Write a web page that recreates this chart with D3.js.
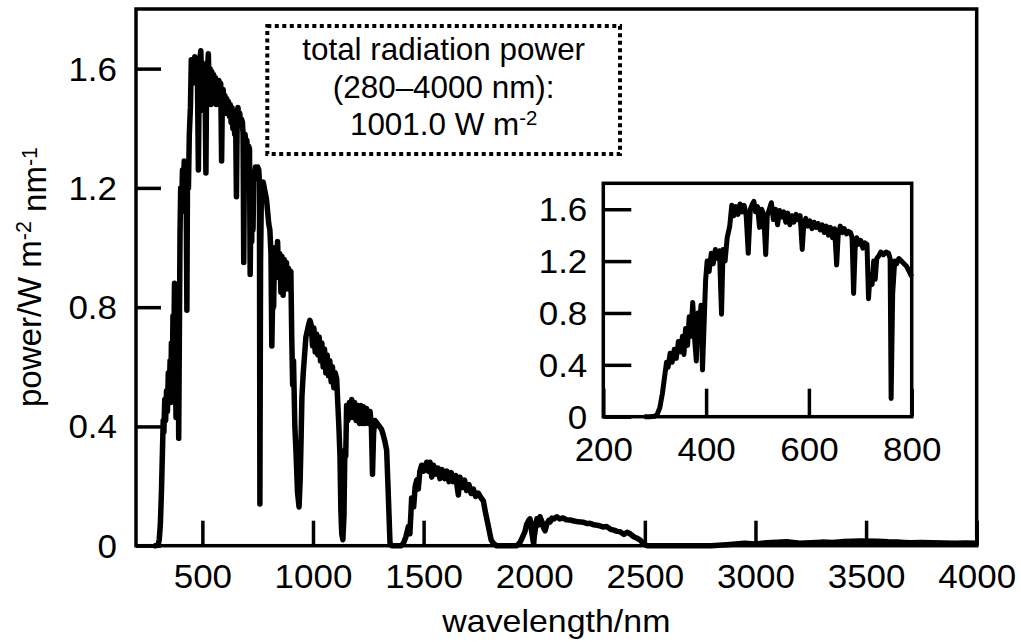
<!DOCTYPE html>
<html>
<head>
<meta charset="utf-8">
<script src="https://cdn.jsdelivr.net/npm/d3@7"></script>
<style>
html,body{margin:0;padding:0;background:#fff;}
svg{display:block;}
text{font-family:"Liberation Sans",Arial,Helvetica,sans-serif;fill:#000;}
</style>
</head>
<body>
<svg id="chart" width="1021" height="642"></svg>
<script>
// ---------- data ----------
const wlVis = [280,290,300,305,310,315,320,323,326,330,334,338,342,346,350,354,357,360,364,367,370,374,378,381,384,387,390,393,396,399,
402,406,410,414,418,422,426,430,433,437,441,446,450,454,458,462,466,470,474,478,482,486,490,493,496,500,504,508,512,516,519,523,527,531,535,539,543,547,551,555,559,563,567,571,575,579,583,587,590,594,598,602,606,610,614,618,622,626,630,634,638,642,646,650,654,657,661,665,669,673,677,681,684,687,690,693,697,701,705,709,713,716,719,723,726,729,732,736,740,745,750,755,758,760,763,767,771,775,780,785,790,795,800];
const pwVis = [0,0,0.003,0.02,0.07,0.18,0.33,0.42,0.38,0.49,0.42,0.52,0.45,0.58,0.50,0.62,0.48,0.68,0.55,0.77,0.62,0.88,0.58,0.43,0.80,0.65,0.86,0.36,0.70,1.05,
1.20,1.12,1.26,1.18,1.29,1.22,1.28,0.79,1.29,1.20,1.38,1.47,1.63,1.55,1.62,1.56,1.64,1.58,1.63,1.55,1.26,1.60,1.64,1.66,1.58,1.62,1.46,1.60,1.56,1.25,1.55,1.60,1.65,1.52,1.60,1.48,1.59,1.54,1.58,1.50,1.57,1.48,1.55,1.50,1.56,1.52,1.55,1.29,1.48,1.53,1.47,1.51,1.45,1.50,1.46,1.49,1.44,1.48,1.42,1.47,1.40,1.46,1.38,1.45,1.17,1.40,1.47,1.42,1.45,1.41,1.43,1.42,1.38,0.95,1.30,1.38,1.33,1.36,1.30,1.34,1.33,0.91,1.10,1.02,1.20,1.06,1.22,1.24,1.27,1.25,1.27,1.26,1.22,0.14,0.95,1.20,1.18,1.22,1.20,1.18,1.16,1.12,1.08];

const wlNir = [805,810,814,818,822,826,830,835,840,845,850,855,860,865,870,875,880,885,890,895,900,904,908,912,918,924,930,937,942,946,950,956,962,968,974,980,986,992,998,
1004,1010,1016,1022,1028,1034,1040,1046,1052,1058,1064,1070,1076,1082,1088,1094,1100,1107,1112,1117,1122,1126,1130,1135,1140,1144,1148,1152,1158,1164,1170,1175,1182,1188,1195,
1202,1210,1216,1222,1228,1235,1242,1250,1258,1264,1269,1274,1280,1290,1300,1310,1318,1325,1333,1340,1348,1355,1370,1390,1400,1410,1420,1431,1438,1446,1455,1462,1469,1476,1483,1491,
1500,1514,1522,1529,1537,1545,1555,1565,1574,1584,1595,1605,1615,1625,1634,1645,1657,1664,1675,1685,1694,1705,1715,1725,1735,1747,1760,1770,1780,1793,1805,1815,1830,1900,1921,1935,1948,1958,1965,1975,1981,1988,1996,
2004,2012,2020,2026,2035,2042,2049,2058,2066,2072,2080,2090,2102,2115,2130,2145,2162,2180,2200,2220,2240,2252,2270,2290,2310,2328,2345,2360,2375,2388,2405,2420,2433,2450,2465,2479,2495,2509,2600,2700,2800,2885,2950,
3000,3050,3100,3141,3200,3250,3300,3350,3400,3473,3550,3600,3650,3700,3750,3800,3850,3900,3950,4000];
const pwNir = [1.06,0.98,0.67,0.85,0.80,0.98,1.00,0.93,1.02,0.90,0.98,0.85,0.97,0.84,0.96,0.86,0.95,0.88,0.93,0.86,0.92,0.70,0.54,0.62,0.40,0.30,0.18,0.13,0.22,0.35,0.50,0.58,0.64,0.70,0.72,0.74,0.756,0.74,0.67,
0.73,0.65,0.71,0.64,0.70,0.62,0.68,0.60,0.66,0.58,0.64,0.57,0.62,0.55,0.60,0.53,0.58,0.56,0.48,0.40,0.30,0.12,0.04,0.02,0.10,0.32,0.30,0.47,0.42,0.48,0.43,0.49,0.43,0.48,0.42,
0.47,0.41,0.47,0.41,0.466,0.41,0.46,0.41,0.45,0.40,0.24,0.38,0.42,0.41,0.40,0.39,0.37,0.35,0.32,0.18,0.01,0,0,0,0,0.01,0.03,0.064,0.04,0.16,0.13,0.20,0.22,0.19,0.25,0.27,
0.25,0.28,0.25,0.28,0.23,0.27,0.24,0.26,0.225,0.255,0.225,0.25,0.215,0.245,0.215,0.235,0.17,0.23,0.195,0.22,0.185,0.205,0.175,0.19,0.165,0.176,0.16,0.15,0.11,0.064,0.02,0.008,0,0,0,0.01,0.03,0.047,0.07,0.085,0.09,0.05,0.01,
0.05,0.09,0.07,0.097,0.08,0.06,0.05,0.075,0.085,0.08,0.093,0.09,0.097,0.09,0.093,0.087,0.086,0.083,0.08,0.079,0.074,0.075,0.07,0.068,0.063,0.064,0.055,0.052,0.048,0.047,0.038,0.045,0.04,0.03,0.025,0.019,0.006,0,0,0,0,0.004,0.008,
0.006,0.010,0.012,0.013,0.008,0.010,0.012,0.011,0.014,0.016,0.015,0.013,0.012,0.010,0.011,0.010,0.009,0.008,0.009,0.008];

const mainXTicks = [500,1000,1500,2000,2500,3000,3500,4000];
const mainYTicks = [0,0.4,0.8,1.2,1.6];
const insetXTicks = [200,400,600,800];
const insetYTicks = [0,0.4,0.8,1.2,1.6];
const boxLines = ["total radiation power","(280\u20134000 nm):","1001.0 W m"];
const boxSup = "-2";
const xTitle = "wavelength/nm";

// ---------- build ----------
const spectrum = wlVis.map((w,i)=>({w, p:pwVis[i]})).concat(wlNir.map((w,i)=>({w, p:pwNir[i]})));
const visPart = spectrum.filter(d=>d.w<=800);

const SX = 1.06;            // horizontal stretch of lettering in the reference
const FS = 33;
const svg = d3.select("#chart");
const fmt = d => d===0 ? "0" : d3.format(".1f")(d);

// main chart
const M = {l:136, r:976.7, t:9, b:545.7};
const x = d3.scaleLinear().domain([200,4000]).range([M.l, M.r]);
const y = d3.scaleLinear().domain([0,1.8]).range([M.b, M.t]);

const line = d3.line().x(d=>x(d.w)).y(d=>y(d.p));
svg.append("path").datum(spectrum).attr("d", line)
  .attr("fill","none").attr("stroke","#000").attr("stroke-width",5.5).attr("stroke-linejoin","round");

function styleAxis(g, fs){
  g.select(".domain").remove();
  g.selectAll(".tick line").attr("stroke","#000").attr("stroke-width",3.5);
  g.selectAll(".tick text").attr("font-size",fs).attr("fill","#000")
   .attr("font-family",'"Liberation Sans",Arial,sans-serif');
}

const gx = svg.append("g").attr("transform",`translate(0,${M.b})`)
  .call(d3.axisBottom(x).tickValues(mainXTicks).tickSizeInner(-25).tickSizeOuter(0).tickFormat(d3.format("d")));
styleAxis(gx, FS);
gx.selectAll(".tick text").attr("y",42.5).attr("dy",null).attr("transform",`scale(${SX},1)`);

const gy = svg.append("g").attr("transform",`translate(${M.l},0)`)
  .call(d3.axisLeft(y).tickValues(mainYTicks).tickSizeInner(-25).tickSizeOuter(0).tickFormat(fmt));
styleAxis(gy, FS);
gy.selectAll(".tick text").attr("x",-19/SX).attr("dy","0.35em").attr("transform",`scale(${SX},1)`);

svg.append("rect").attr("x",M.l).attr("y",M.t).attr("width",M.r-M.l).attr("height",M.b-M.t)
  .attr("fill","none").attr("stroke","#000").attr("stroke-width",3.5);

// axis titles
svg.append("text").attr("transform",`translate(${(M.l+M.r)/2},632) scale(${SX},1)`)
  .attr("text-anchor","middle").attr("font-size",32).text(xTitle);

const yt = svg.append("text").attr("transform","translate(41,277) rotate(-90)")
  .attr("text-anchor","middle").attr("font-size",33);
yt.append("tspan").text("power/W m");
yt.append("tspan").attr("dy","-0.45em").attr("font-size","0.65em").text("-2");
yt.append("tspan").attr("dy","0.45em").text(" nm");
yt.append("tspan").attr("dy","-0.45em").attr("font-size","0.65em").text("-1");

// dotted text box
const B = {l:267.3, r:620, t:26, b:154};
svg.append("rect").attr("x",B.l).attr("y",B.t).attr("width",B.r-B.l).attr("height",B.b-B.t)
  .attr("fill","#fff").attr("stroke","#000").attr("stroke-width",4).attr("stroke-dasharray","4,3.5");
const bcx = (B.l+B.r)/2;
const baselines = [60,98,135];
boxLines.forEach((s,i)=>{
  const t = svg.append("text").attr("transform",`translate(${bcx},${baselines[i]}) scale(1.03,1)`)
    .attr("text-anchor","middle").attr("font-size",30.5);
  t.append("tspan").text(s);
  if(i===2) t.append("tspan").attr("dy","-0.5em").attr("font-size","0.65em").text(boxSup);
});

// inset
const I = {l:603.3, r:911.7, t:183.3, b:416.7};
const ix = d3.scaleLinear().domain([200,800]).range([I.l, I.r]);
const iy = d3.scaleLinear().domain([0,1.8]).range([I.b, I.t]);
svg.append("rect").attr("x",I.l).attr("y",I.t).attr("width",I.r-I.l).attr("height",I.b-I.t).attr("fill","#fff");
svg.append("path").datum(visPart).attr("d", d3.line().x(d=>ix(d.w)).y(d=>iy(d.p)))
  .attr("fill","none").attr("stroke","#000").attr("stroke-width",5).attr("stroke-linejoin","round");

const igx = svg.append("g").attr("transform",`translate(0,${I.b})`)
  .call(d3.axisBottom(ix).tickValues(insetXTicks).tickSizeInner(-28).tickSizeOuter(0).tickFormat(d3.format("d")));
styleAxis(igx, FS);
igx.selectAll(".tick text").attr("y",44).attr("dy",null).attr("transform",`scale(${SX},1)`);

const igy = svg.append("g").attr("transform",`translate(${I.l},0)`)
  .call(d3.axisLeft(iy).tickValues(insetYTicks).tickSizeInner(-28).tickSizeOuter(0).tickFormat(fmt));
styleAxis(igy, FS);
igy.selectAll(".tick text").attr("x",-16/SX).attr("dy","0.35em").attr("transform",`scale(${SX},1)`);

svg.append("rect").attr("x",I.l).attr("y",I.t).attr("width",I.r-I.l).attr("height",I.b-I.t)
  .attr("fill","none").attr("stroke","#000").attr("stroke-width",3.5);
</script>
</body>
</html>
